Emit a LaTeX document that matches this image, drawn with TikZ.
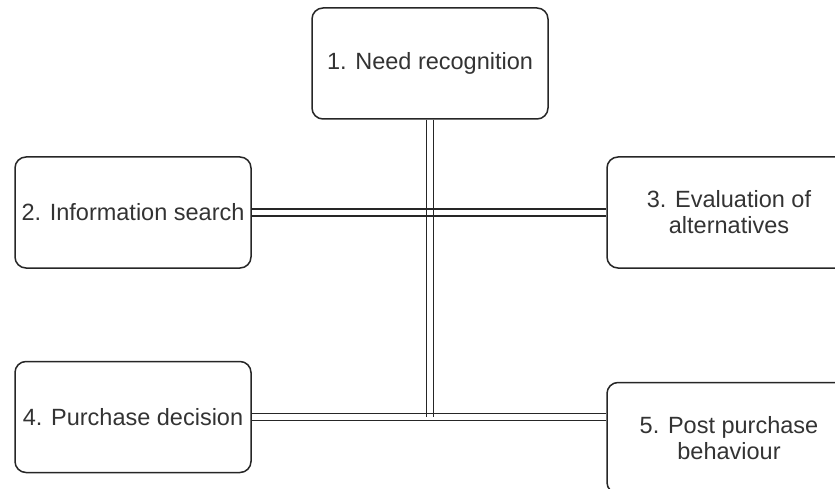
\documentclass[tikz,border=0pt]{standalone}
\usepackage{fontspec}
\setmainfont{Liberation Sans}

\tikzset{
  stage/.style={rectangle, rounded corners=11pt, draw=black!85, line width=1.5pt,
    minimum width=236pt, minimum height=111pt, inner sep=0pt, align=center,
    text=black!80, font=\fontsize{23.5}{26}\selectfont},
  cutstage/.style={stage, minimum width=244pt},
  hlink/.style={postaction={draw,black!85,line width=1.5pt,transform canvas={yshift=3.6pt}},
    postaction={draw,black!85,line width=1.5pt,transform canvas={yshift=-3.6pt}}},
  vlink/.style={postaction={draw,black!85,line width=1.5pt,transform canvas={xshift=3.6pt}},
    postaction={draw,black!85,line width=1.5pt,transform canvas={xshift=-3.6pt}}}
}

\begin{document}
\begin{tikzpicture}[x=1pt,y=-1pt]

        \useasboundingbox (0,0) rectangle (835,489);

        \path   (430,63.5)  node (n1) [stage] {1. Need recognition}
                (133,212.5) node (n2) [stage] {2. Information search}
                (729,212.5) node (n3) [cutstage] {3. Evaluation of\\alternatives}
                (133,417)   node (n4) [stage] {4. Purchase decision}
                (729,438)   node (n5) [cutstage] {5. Post purchase\\behaviour};

        \coordinate (join) at (n1.south |- n4.east);

        \path[vlink] (n1.south) -- (join);
        \path[hlink] (n2.east) -- (n3.west);
        \path[hlink] (n4.east) -- (n4.east -| n5.west);

\end{tikzpicture}
\end{document}
